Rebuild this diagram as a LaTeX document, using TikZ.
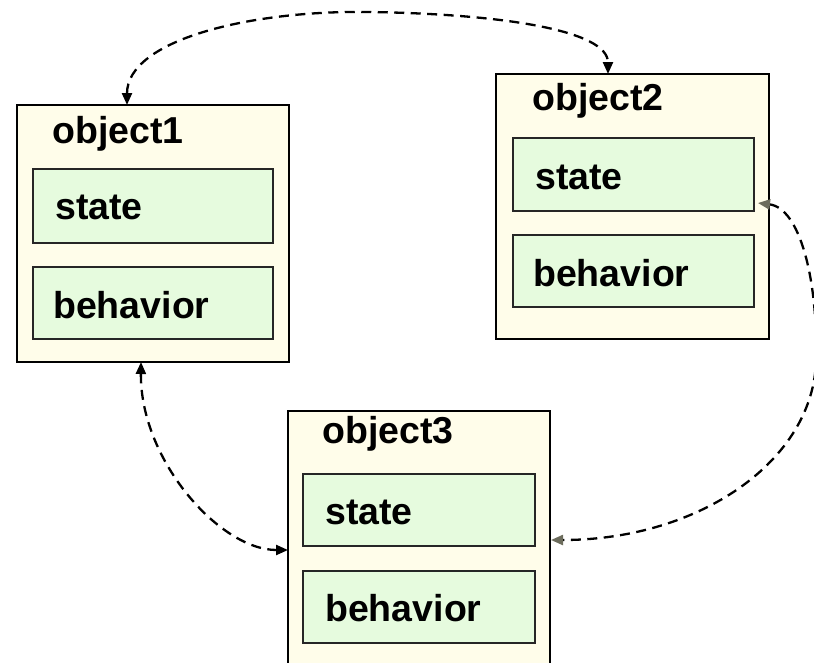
\documentclass[tikz,border=0pt]{standalone}
\usepackage{fontspec}
\setmainfont{Liberation Sans}
\usetikzlibrary{arrows.meta}
\definecolor{objfill}{RGB}{255,253,234}
\definecolor{partfill}{RGB}{230,251,222}
\definecolor{tipgray}{RGB}{108,108,92}

\begin{document}
\begin{tikzpicture}[x=1pt,y=-1pt,
  objbox/.style={draw=black, line width=2.5pt, fill=objfill, anchor=north west,
    inner sep=0pt, outer sep=0pt},
  partbox/.style={draw=black!85, line width=2.2pt, fill=partfill, anchor=north west,
    inner sep=0pt, outer sep=0pt},
  objtitle/.style={anchor=base west, inner sep=0pt, font=\fontsize{37.5}{40}\selectfont\bfseries},
  parttext/.style={anchor=base west, inner sep=0pt, font=\fontsize{37.5}{40}\selectfont\bfseries},
  link/.style={line width=2.3pt, dash pattern=on 10pt off 6.5pt},
  blacktips/.style={arrows={Triangle[length=12pt,width=10pt]-Triangle[length=12pt,width=10pt]}},
  graytips/.style={arrows={Triangle[length=12pt,width=10pt,color=tipgray]-Triangle[length=12pt,width=10pt,color=tipgray]}}
]
\useasboundingbox (0,0) rectangle (814,662);
\clip (0,0) rectangle (814,662);

% object1
\node[objbox, minimum width=272pt, minimum height=257pt] (o1) at (17,105) {};
\node[objtitle] (o1t) at (52,143) {object1};
\node[partbox, minimum width=240pt, minimum height=74pt] (s1) at (33,169) {};
\node[parttext] (s1t) at (55,219) {state};
\node[partbox, minimum width=240pt, minimum height=72pt] (b1) at (33,267) {};
\node[parttext] (b1t) at (53,318) {behavior};

% object2
\node[objbox, minimum width=273pt, minimum height=265pt] (o2) at (496,74) {};
\node[objtitle] (o2t) at (532,110) {object2};
\node[partbox, minimum width=241pt, minimum height=73pt] (s2) at (513,138) {};
\node[parttext] (s2t) at (535,189) {state};
\node[partbox, minimum width=241pt, minimum height=72pt] (b2) at (513,235) {};
\node[parttext] (b2t) at (533,286) {behavior};

% object3 (runs past the lower edge)
\node[objbox, minimum width=262pt, minimum height=300pt] (o3) at (288,411) {};
\node[objtitle] (o3t) at (322,443) {object3};
\node[partbox, minimum width=232pt, minimum height=72pt] (s3) at (303,474) {};
\node[parttext] (s3t) at (325,524) {state};
\node[partbox, minimum width=232pt, minimum height=72pt] (b3) at (303,571) {};
\node[parttext] (b3t) at (325,621) {behavior};

% connection points on the boxes
\coordinate (o1top) at ([xshift=110pt]o1.north west);
\coordinate (o2top) at ([xshift=112pt]o2.north west);
\coordinate (o1bot) at ([xshift=124pt]o1.south west);
\coordinate (o3left) at ([yshift=-139pt]o3.north west);
\coordinate (s2right) at ([yshift=-65pt,xshift=4pt]s2.north east);
\coordinate (s3right) at ([yshift=-30pt,xshift=16pt]s3.east);

% object1 <-> object2
\draw[link, blacktips] (o1top) .. controls (127,40) and (250,10) .. (370,12)
  .. controls (500,14) and (608,30) .. (o2top);
% object1 <-> object3
\draw[link, blacktips] (o1bot) .. controls (140,460) and (220,550) .. (o3left);
% object2 state <-> object3 state
\draw[link, graytips] (s2right) .. controls (800,208) and (818,280) .. (816,360)
  .. controls (814,460) and (700,540) .. (s3right);
\end{tikzpicture}
\end{document}
